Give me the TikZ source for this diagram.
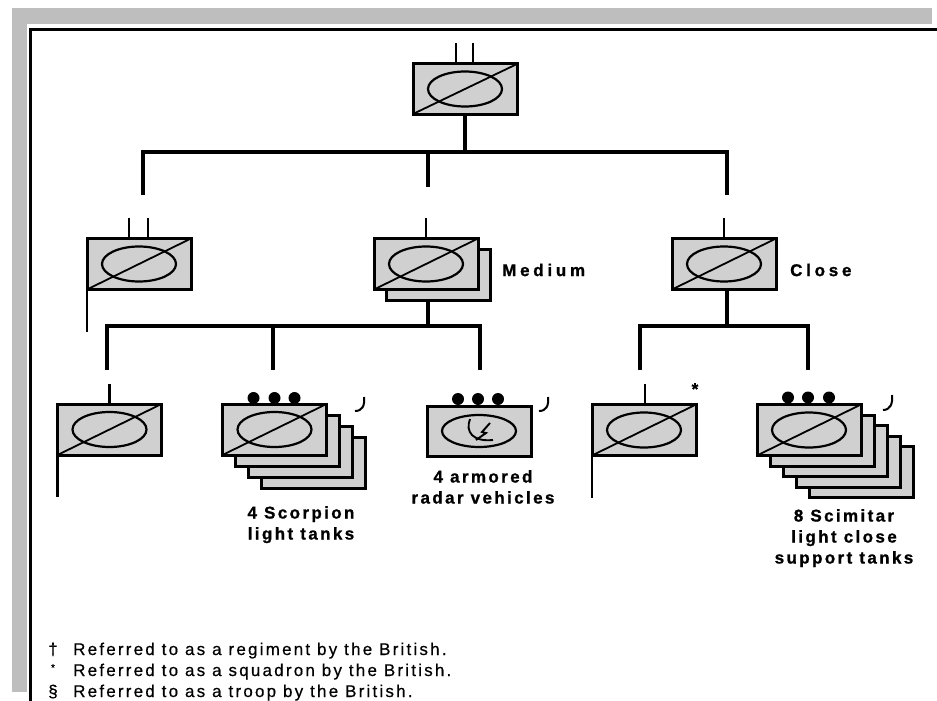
\documentclass[tikz,border=0pt]{standalone}
\usepackage{fontspec}
\setmainfont{Liberation Sans}
\newfontfamily\lblfont{Liberation Sans Bold}[LetterSpace=14, FakeBold=1]
\newfontfamily\sidefont{Liberation Sans Bold}[LetterSpace=22, FakeBold=1]
\newfontfamily\notefont{Liberation Sans}[LetterSpace=13, FakeBold=0.5]
\definecolor{boxgray}{RGB}{208,208,208}
\definecolor{framegray}{RGB}{190,190,190}

\tikzset{
  boxbase/.style={draw, line width=3pt, fill=boxgray, minimum width=104pt,
    minimum height=51pt, inner sep=0pt, outer sep=0pt},
  unit/.style={boxbase, path picture={
      \draw[line width=2.2pt] (path picture bounding box.center) ellipse (37pt and 17.5pt);
      \draw[line width=1.8pt] (path picture bounding box.south west) -- (path picture bounding box.north east);}},
  plainunit/.style={boxbase, path picture={
      \draw[line width=2.2pt] (path picture bounding box.center) ellipse (37pt and 16pt);}},
  layer/.style={boxbase},
  bar/.style={line width=4pt, line join=miter},
  tick/.style={line width=2.6pt},
  staff/.style={line width=2.8pt},
  hook/.style={line width=2pt},
  lbl/.style={font=\lblfont\fontsize{17}{21}\selectfont, align=center, inner sep=0pt},
  sidelbl/.style={font=\sidefont\fontsize{17}{21}\selectfont, inner sep=0pt},
  note/.style={font=\notefont\fontsize{17}{21}\selectfont, inner sep=0pt},
  dotmark/.style={fill=black}
}

\begin{document}
\begin{tikzpicture}[x=1pt,y=-1pt]
\useasboundingbox (0,0) rectangle (937,701);
\fill[white] (0,0) rectangle (937,701);

% page frame
\fill[framegray] (12,8) rectangle (932,24);
\fill[framegray] (12,8) rectangle (27,692);
\draw[line width=3pt] (30,701) -- (30,29.5) -- (937,29.5);

% ---------- top unit ----------
\node[unit, minimum height=50pt] (top) at (465,89) {};
\draw[tick] ([xshift=-9pt]top.north) -- ++(0,-21);
\draw[tick] ([xshift=8pt]top.north) -- ++(0,-21);

% ---------- second level ----------
\node[unit] (hqA) at (139,264) {};
\draw[tick] ([xshift=-10pt]hqA.north) -- ++(0,-21);
\draw[tick] ([xshift=9pt]hqA.north) -- ++(0,-21);
\draw[staff] (hqA.south west) -- ++(0,42);

\node[layer] (medB) at (438,275) {};
\node[unit] (med) at (426,264) {};
\draw[tick] (med.north) -- ++(0,-21);
\node[sidelbl, anchor=west] (medT) at (502,270) {Medium};

\node[unit] (cls) at (724,264) {};
\draw[tick] (cls.north) -- ++(0,-21);
\node[sidelbl, anchor=west] (clsT) at (790,270) {Close};

% connectors from the top unit
\coordinate (bL) at (143,152);
\coordinate (bR) at (727,152);
\coordinate (dL) at (143,195);
\coordinate (dR) at (727,195);
\coordinate (dM) at (428,187);
\draw[bar] (top.south) -- (top.south |- bL);
\draw[bar] (dL) -- (bL) -- (bR) -- (dR);
\draw[bar] (dM |- bL) -- (dM);

% ---------- third level ----------
% headquarters
\node[unit] (hqB) at (109.5,429.5) {};
\draw[tick] (hqB.north) -- ++(0,-20);
\draw[staff] (hqB.south west) -- ++(0,42);

% light tanks
\node[layer] (sc3) at (313.5,462.5) {};
\node[layer] (sc2) at (300.5,451.5) {};
\node[layer] (sc1) at (287.5,440.5) {};
\node[unit] (scp) at (274.5,429.5) {};
\foreach \dx in {-21,0,20} \fill[dotmark] ([xshift=\dx pt, yshift=6pt]scp.north) circle (6pt);
\draw[hook] (364,397) .. controls (365,406) and (362,411) .. (355,411);
\node[lbl, anchor=north] (scpT) at (301,506) {4 Scorpion\\light tanks};

% radar vehicles
\node[plainunit, minimum height=50pt] (rdr) at (479,431) {};
\draw[line width=1.9pt] (470,419) .. controls (465,432) and (473,442) .. (493,440);
\draw[line width=1.9pt] (490,423) -- (482,432) -- (486,433) -- (476,440);
\foreach \dx in {-21,-1,19} \fill[dotmark] ([xshift=\dx pt, yshift=7pt]rdr.north) circle (6pt);
\draw[hook] (548,397) .. controls (549,406) and (546,411) .. (539,411);
\node[lbl, anchor=north] (rdrT) at (483,470) {4 armored\\radar vehicles};

% close support headquarters
\node[unit] (hqC) at (644,430) {};
\draw[tick] ([xshift=1pt]hqC.north) -- ++(0,-21);
\draw[staff] (hqC.south west) -- ++(0,42);
\node[lbl, anchor=center] (ast) at (695,389) {*};

% close support tanks
\node[layer] (sm4) at (861,472) {};
\node[layer] (sm3) at (848,461.5) {};
\node[layer] (sm2) at (835,451) {};
\node[layer] (sm1) at (822,440.5) {};
\node[unit] (scm) at (809,430) {};
\foreach \dx in {-21,-1,20} \fill[dotmark] ([xshift=\dx pt, yshift=7pt]scm.north) circle (6pt);
\draw[hook] (892,395) .. controls (893,404) and (890,410) .. (883,410);
\node[lbl, anchor=north] (scmT) at (844,509) {8 Scimitar\\light close\\support tanks};

% connectors below the second level
\coordinate (mL) at (107,326);
\coordinate (mR) at (480,326);
\coordinate (mD) at (273,326);
\coordinate (cL) at (640,326);
\coordinate (cR) at (808,326);
\draw[bar] (medB.south -| med.south) ++(2,0) coordinate (mS) -- (mS |- mL);
\draw[bar] (107,370) -- (mL) -- (mR) -- (480,370);
\draw[bar] (mD) -- (273,370);
\draw[bar] ([xshift=3pt]cls.south) -- ([xshift=3pt]cls.south |- cL);
\draw[bar] (640,370) -- (cL) -- (cR) -- (808,370);

% ---------- footnotes ----------
\node[note, anchor=base] (m1) at (53,655) {†};
\node[note, anchor=base west] (n1) at (73,655) {Referred to as a regiment by the British.};
\node[note, anchor=base, font=\notefont\fontsize{10}{10}\selectfont] (m2) at (53,671) {*};
\node[note, anchor=base west] (n2) at (73,676) {Referred to as a squadron by the British.};
\node[note, anchor=base] (m3) at (53,697) {§};
\node[note, anchor=base west] (n3) at (73,697) {Referred to as a troop by the British.};
\end{tikzpicture}
\end{document}
